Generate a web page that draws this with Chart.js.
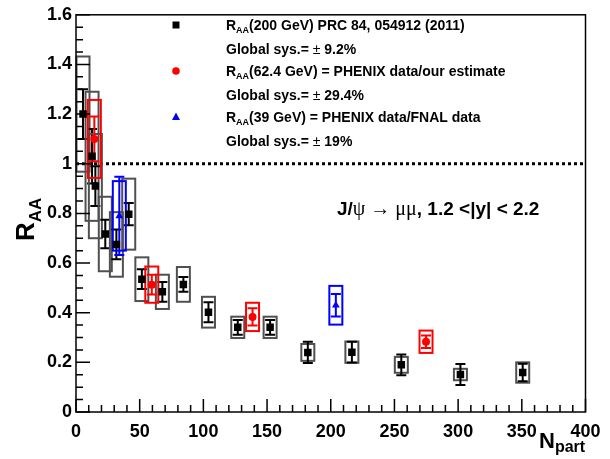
<!DOCTYPE html>
<html>
<head>
<meta charset="utf-8">
<script src="https://cdn.jsdelivr.net/npm/chart.js@4.4.1/dist/chart.umd.min.js"></script>
<style>
  html, body { margin: 0; padding: 0; background: #fff; }
  canvas { display: block; }
</style>
</head>
<body>
<canvas id="raaChart" width="610" height="459"></canvas>
<script>
// R_AA(200 GeV), PRC 84, 054912 (2011)
const npart200 = [5.5, 12.6, 15.2, 23.0, 31.7, 41.4, 51.7, 67.8, 84.3, 104.0, 127.0, 152.4, 182.0, 216.6, 255.4, 301.8, 350.7];
const raa200   = [1.20, 1.03, 0.91, 0.717, 0.675, 0.797, 0.535, 0.484, 0.514, 0.402, 0.341, 0.341, 0.24, 0.241, 0.19, 0.151, 0.159];
const stat200  = [0.10, 0.11, 0.08, 0.057, 0.06, 0.045, 0.04, 0.04, 0.03, 0.04, 0.03, 0.03, 0.043, 0.042, 0.042, 0.042, 0.035];
const sys200   = [0.232, 0.26, 0.21, 0.15, 0.13, 0.143, 0.088, 0.069, 0.07, 0.062, 0.043, 0.043, 0.034, 0.043, 0.032, 0.023, 0.041];

// R_AA(62.4 GeV) = PHENIX data / our estimate
const npart62 = [14.4, 59.5, 138.6, 274.8];
const raa62   = [1.10, 0.513, 0.383, 0.283];
const stat62  = [0.09, 0.04, 0.035, 0.025];
const sys62   = [0.157, 0.073, 0.057, 0.045];

// R_AA(39 GeV) = PHENIX data / FNAL data
const npart39 = [34.0, 204.0];
const raa39   = [0.79, 0.43];
const stat39  = [0.158, 0.045];
const sys39   = [0.14, 0.078];

const xTickValues = [0, 50, 100, 150, 200, 250, 300, 350, 400];
const xTickLabels = ['0', '50', '100', '150', '200', '250', '300', '350', '400'];
const yTickValues = [0, 0.2, 0.4, 0.6, 0.8, 1.0, 1.2, 1.4, 1.6];
const yTickLabels = ['0', '0.2', '0.4', '0.6', '0.8', '1', '1.2', '1.4', '1.6'];

const legendTexts = ['(200 GeV) PRC 84, 054912 (2011)', '(62.4 GeV) = PHENIX data/our estimate', '(39 GeV) = PHENIX data/FNAL data'];
const globalSys = ['9.2%', '29.4%', '19%'];

const sans = '"Liberation Sans", Arial, sans-serif';
const serif = '"Liberation Serif", "Times New Roman", serif';

function toPoints(xs, ys) {
  return xs.map((x, i) => ({ x: x, y: ys[i] }));
}

// draws a run of text pieces one after the other
function richText(ctx, x, y, parts) {
  parts.forEach(p => {
    ctx.font = p.font;
    ctx.fillText(p.t, x, y + (p.dy || 0));
    x += ctx.measureText(p.t).width;
  });
  return x;
}

const errorPlugin = {
  id: 'errorBoxes',
  beforeDatasetsDraw(chart) {
    const ctx = chart.ctx;
    const a = chart.chartArea;
    const xs = chart.scales.x, ys = chart.scales.y;
    ctx.save();

    // dotted line at R_AA = 1
    ctx.strokeStyle = '#000';
    ctx.lineWidth = 3;
    ctx.setLineDash([3, 3]);
    ctx.beginPath();
    ctx.moveTo(a.left, ys.getPixelForValue(1));
    ctx.lineTo(a.right, ys.getPixelForValue(1));
    ctx.stroke();
    ctx.setLineDash([]);

    chart.data.datasets.forEach(ds => {
      ds.data.forEach((p, i) => {
        const px = xs.getPixelForValue(p.x);
        // systematic box
        const bt = ys.getPixelForValue(p.y + ds.sys[i]);
        const bb = ys.getPixelForValue(p.y - ds.sys[i]);
        ctx.strokeStyle = ds.boxColor;
        ctx.lineWidth = 2;
        ctx.strokeRect(px - 6.5, bt, 13, bb - bt);
        // statistical error bar
        const et = ys.getPixelForValue(p.y + ds.stat[i]);
        const eb = ys.getPixelForValue(p.y - ds.stat[i]);
        ctx.strokeStyle = ds.barColor;
        ctx.lineWidth = 2;
        ctx.beginPath();
        ctx.moveTo(px, et); ctx.lineTo(px, eb);
        ctx.moveTo(px - 5, et); ctx.lineTo(px + 5, et);
        ctx.moveTo(px - 5, eb); ctx.lineTo(px + 5, eb);
        ctx.stroke();
      });
    });
    ctx.restore();
  },
  afterDraw(chart) {
    const ctx = chart.ctx;
    const a = chart.chartArea;
    const xs = chart.scales.x, ys = chart.scales.y;
    ctx.save();

    // frame
    ctx.strokeStyle = '#000';
    ctx.lineWidth = 1.5;
    ctx.strokeRect(a.left, a.top, a.right - a.left, a.bottom - a.top);

    // inside ticks, ROOT style
    ctx.lineWidth = 1.5;
    ctx.beginPath();
    for (let v = 0; v <= 400.001; v += 10) {
      const px = xs.getPixelForValue(v);
      const len = (Math.round(v) % 50 === 0) ? 13 : 7;
      ctx.moveTo(px, a.bottom); ctx.lineTo(px, a.bottom - len);
    }
    for (let k = 0; k <= 32; k++) {
      const py = ys.getPixelForValue(k * 0.05);
      const len = (k % 4 === 0) ? 14 : 7;
      ctx.moveTo(a.left, py); ctx.lineTo(a.left + len, py);
    }
    ctx.stroke();

    ctx.fillStyle = '#000';
    ctx.textBaseline = 'alphabetic';
    ctx.textAlign = 'left';

    // x title
    richText(ctx, 539, 448, [
      { t: 'N', font: 'bold 22px ' + sans },
      { t: 'part', font: 'bold 16px ' + sans, dy: 4 }
    ]);

    // y title
    ctx.save();
    ctx.translate(34, 241);
    ctx.rotate(-Math.PI / 2);
    richText(ctx, 0, 0, [
      { t: 'R', font: 'bold 26px ' + sans },
      { t: 'AA', font: 'bold 17px ' + sans, dy: 7 }
    ]);
    ctx.restore();

    // annotation
    richText(ctx, 337, 215, [
      { t: 'J/', font: 'bold 19px ' + sans },
      { t: '\u03C8 \u2192 \u03BC\u03BC', font: '20px ' + serif },
      { t: ', 1.2 <|y| < 2.2', font: 'bold 19px ' + sans }
    ]);

    // legend
    const rows = [30, 76, 122];
    const markers = ['rect', 'circle', 'triangle'];
    const colors = ['#000', '#ff0000', '#0000ff'];
    rows.forEach((by, i) => {
      ctx.fillStyle = colors[i];
      const mx = 176, my = by - 5;
      ctx.beginPath();
      if (markers[i] === 'rect') ctx.rect(mx - 3.5, my - 3.5, 7, 7);
      else if (markers[i] === 'circle') ctx.arc(mx, my, 3.8, 0, Math.PI * 2);
      else { ctx.moveTo(mx, my - 4.5); ctx.lineTo(mx + 4, my + 3); ctx.lineTo(mx - 4, my + 3); ctx.closePath(); }
      ctx.fill();
      ctx.fillStyle = '#000';
      richText(ctx, 226, by, [
        { t: 'R', font: 'bold 14px ' + sans },
        { t: 'AA', font: 'bold 9px ' + sans, dy: 3 },
        { t: legendTexts[i], font: 'bold 14px ' + sans }
      ]);
      richText(ctx, 226, by + 24, [
        { t: 'Global sys.= ', font: 'bold 14px ' + sans },
        { t: '\u00B1', font: '14px ' + sans },
        { t: ' ' + globalSys[i], font: 'bold 14px ' + sans }
      ]);
    });
    ctx.restore();
  }
};

const ctx = document.getElementById('raaChart').getContext('2d');
const chart = new Chart(ctx, {
  type: 'scatter',
  data: {
    datasets: [
      {
        label: 'RAA 200 GeV',
        data: toPoints(npart200, raa200),
        stat: stat200, sys: sys200,
        boxColor: '#505050', barColor: '#000',
        pointStyle: 'rect', pointRadius: 5.3,
        backgroundColor: '#000', borderWidth: 0
      },
      {
        label: 'RAA 62.4 GeV',
        data: toPoints(npart62, raa62),
        stat: stat62, sys: sys62,
        boxColor: '#ff0000', barColor: '#ff0000',
        pointStyle: 'circle', pointRadius: 4,
        backgroundColor: '#ff0000', borderWidth: 0
      },
      {
        label: 'RAA 39 GeV',
        data: toPoints(npart39, raa39),
        stat: stat39, sys: sys39,
        boxColor: '#0000ff', barColor: '#0000ff',
        pointStyle: 'triangle', pointRadius: 4.5,
        backgroundColor: '#0000ff', borderWidth: 0
      }
    ]
  },
  options: {
    responsive: false,
    animation: false,
    layout: { padding: { top: 11, right: 24.5, left: 0, bottom: 0 } },
    plugins: {
      legend: { display: false },
      tooltip: { enabled: false }
    },
    scales: {
      x: {
        type: 'linear',
        min: 0, max: 400,
        afterFit: s => { s.height = 47; },
        afterBuildTicks: s => { s.ticks = xTickValues.map(v => ({ value: v })); },
        grid: { display: false, drawTicks: false },
        border: { display: false },
        ticks: {
          autoSkip: false, maxRotation: 0, padding: 9, color: '#000',
          font: { family: sans, size: 18, weight: 'bold' },
          callback: (v, i) => xTickLabels[i]
        }
      },
      y: {
        type: 'linear',
        min: 0, max: 1.6,
        afterFit: s => { s.width = 76; },
        afterBuildTicks: s => { s.ticks = yTickValues.map(v => ({ value: v })); },
        grid: { display: false, drawTicks: false },
        border: { display: false },
        ticks: {
          autoSkip: false, padding: 4, color: '#000',
          font: { family: sans, size: 18, weight: 'bold' },
          callback: (v, i) => yTickLabels[i]
        }
      }
    }
  },
  plugins: [errorPlugin]
});
</script>
</body>
</html>
